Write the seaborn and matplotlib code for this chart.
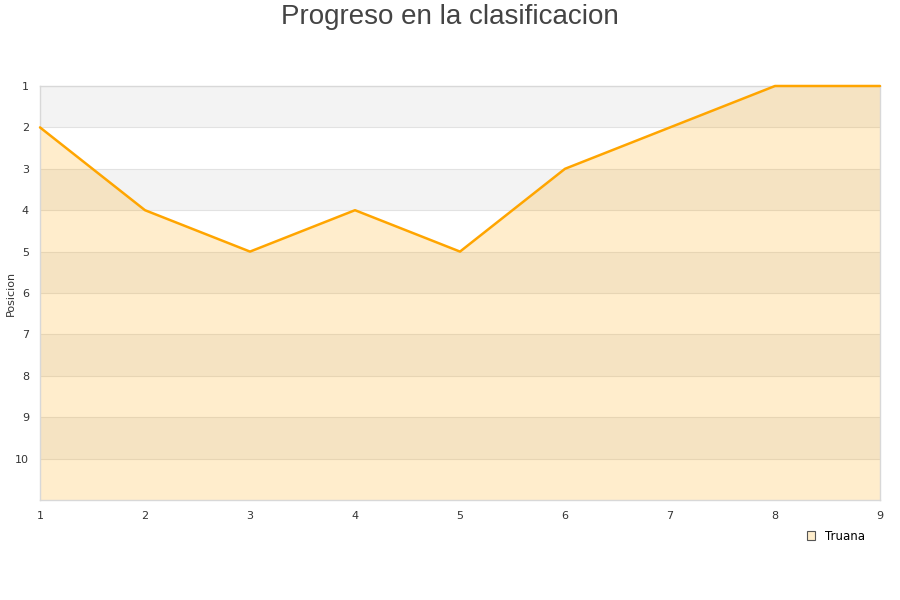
import matplotlib
matplotlib.use("Agg")
import matplotlib.pyplot as plt
import seaborn as sns
import pandas as pd

# data
jornadas = [1, 2, 3, 4, 5, 6, 7, 8, 9]
posicion = [2, 4, 5, 4, 5, 3, 2, 1, 1]
equipo = "Truana"

sns.set_theme(style="white")
plt.rcParams['font.family'] = ['DejaVu Sans']

df = pd.DataFrame({'Jornada': jornadas, 'Posicion': posicion})

fig = plt.figure(figsize=(9, 6), dpi=100)
ax = fig.add_axes([40 / 900, 100 / 600, 840 / 900, 414 / 600])

# alternating background bands
for lo in range(1, 11):
    color = '#f3f3f3' if lo % 2 == 1 else 'white'
    ax.axhspan(lo, lo + 1, color=color, zorder=0, lw=0)
for y in range(2, 11):
    ax.axhline(y, color='#e2e2e2', lw=0.8, zorder=0.5)

ax.fill_between(df['Jornada'], df['Posicion'], 11, color='#ffa500', alpha=0.2,
                lw=0, zorder=1)
sns.lineplot(data=df, x='Jornada', y='Posicion', color='#ffa500', lw=1.8,
             ax=ax, zorder=3, legend=False)
for ln in ax.lines[-1:]:
    ln.set_clip_on(False)

ax.set_xlim(1, 9)
ax.set_ylim(11, 1)
ax.set_xticks(jornadas)
ax.set_yticks(range(1, 11))
ax.tick_params(axis='both', labelsize=8, colors='#333333', length=0)
ax.tick_params(axis='x', pad=8)
ax.tick_params(axis='y', pad=8)
for s in ax.spines.values():
    s.set_color('#d8d8d8')
    s.set_linewidth(1)

ax.set_xlabel('')
ax.set_ylabel('')
fig.text(11 / 900, 1 - 293 / 600, 'Posicion', rotation=90, ha='center', va='center',
         fontsize=8, color='#333333')

fig.text(0.5, 1 - 17 / 600, 'Progreso en la clasificacion', ha='center', va='center',
         fontsize=20, color='#444444', family=['Liberation Sans', 'DejaVu Sans'])

# legend entry at lower right
h = plt.Rectangle((0, 0), 1, 1, facecolor='#feedcb', edgecolor='#555555', lw=0.8)
leg = fig.legend([h], [equipo], loc='center', bbox_to_anchor=(836 / 900, 1 - 536 / 600),
                 frameon=False, fontsize=8.5, handlelength=0.7, handleheight=0.7,
                 handletextpad=0.8)
for t in leg.get_texts():
    t.set_color('black')

fig.savefig('out.png', dpi=100)
